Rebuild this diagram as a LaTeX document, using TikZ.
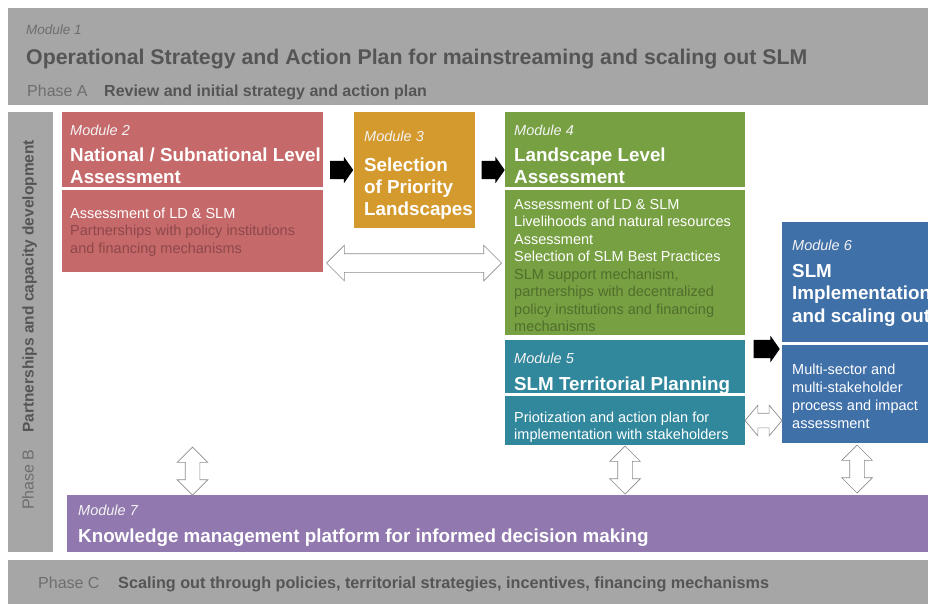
\documentclass[tikz,border=0pt]{standalone}
\usepackage{fontspec}
\setmainfont{Liberation Sans}
\usetikzlibrary{positioning,calc,shapes.arrows}

\definecolor{bandgray}{HTML}{A6A6A6}
\definecolor{bandtxt}{HTML}{555555}
\definecolor{bandlight}{HTML}{6E6E6E}
\definecolor{natred}{HTML}{C6696B}
\definecolor{natdark}{HTML}{8E484A}
\definecolor{prigold}{HTML}{D59A2E}
\definecolor{lndgreen}{HTML}{77A043}
\definecolor{lnddark}{HTML}{506E2C}
\definecolor{terteal}{HTML}{31879C}
\definecolor{impblue}{HTML}{4070A8}
\definecolor{kmpurple}{HTML}{9179AF}

\tikzset{
  modbox/.style={anchor=north west, inner sep=0pt, outer sep=0pt},
  bandlbl/.style={anchor=base west, inner sep=0pt, text=bandlight, font=\fontsize{16}{19}\selectfont},
  bandbold/.style={anchor=base west, inner sep=0pt, text=bandtxt, font=\fontsize{16}{19}\selectfont\bfseries},
  modlbl/.style={anchor=base west, inner sep=0pt, text=white!95!black, font=\fontsize{14.5}{17}\selectfont\itshape},
  modttl/.style={anchor=base west, inner sep=0pt, text=white, align=left, font=\fontsize{18.8}{22}\selectfont\bfseries},
  modtxt/.style={anchor=base west, inner sep=0pt, text=white, align=left, font=\fontsize{14.5}{17.5}\selectfont},
  blkarrow/.style={single arrow, fill=black, inner xsep=1pt, inner ysep=9pt, single arrow head extend=4pt, single arrow tip angle=110, minimum height=24pt},
  dblarrow/.style={double arrow, fill=white, draw=black!45, line width=0.7pt, inner xsep=1pt, inner ysep=7pt, double arrow head extend=8pt, double arrow tip angle=90},
}

\begin{document}
\begin{tikzpicture}[x=1pt,y=-1pt]
  \useasboundingbox (0,0) rectangle (928,603);
  \clip (0,0) rectangle (928,603);

  %%%%% BANDS %%%%%
  % (multi-line nodes sit on their last baseline)
  \node[modbox, fill=bandgray, minimum width=940pt, minimum height=97pt] (m1) at (8,8) {};
  \node[anchor=base west, inner sep=0pt, text=bandlight, font=\fontsize{13.5}{16}\selectfont\itshape] (m1lbl) at ([xshift=18pt,yshift=-26pt]m1.north west) {Module 1};
  \node[anchor=base west, inner sep=0pt, text=bandtxt, font=\fontsize{21.3}{24}\selectfont\bfseries] (m1ttl) at ([xshift=18pt,yshift=-56pt]m1.north west) {Operational Strategy and Action Plan for mainstreaming and scaling out SLM};
  \node[bandlbl] (phA) at ([xshift=19pt,yshift=-88.7pt]m1.north west) {Phase A};
  \node[bandbold] (phAtxt) at ([xshift=96pt,yshift=-88.7pt]m1.north west) {Review and initial strategy and action plan};

  \node[modbox, fill=bandgray, minimum width=45pt, minimum height=440pt] (pB) at (8,112) {};
  \node[bandlbl, rotate=90] (phB) at (33.6,510) {Phase B};
  \node[bandbold, font=\fontsize{15.5}{19}\selectfont\bfseries, rotate=90] (phBtxt) at (33.6,433) {Partnerships and capacity development};

  \node[modbox, fill=bandgray, minimum width=940pt, minimum height=50pt] (pC) at (8,560) {};
  \node[bandlbl] (phC) at ([xshift=30pt,yshift=-28.7pt]pC.north west) {Phase C};
  \node[bandbold, font=\fontsize{16.2}{19}\selectfont\bfseries] (phCtxt) at ([xshift=110pt,yshift=-28.7pt]pC.north west) {Scaling out through policies, territorial strategies, incentives, financing mechanisms};

  %%%%% MODULE 2 %%%%%
  \node[modbox, fill=natred, minimum width=261pt, minimum height=75pt] (m2h) at (62,112) {};
  \node[below=3pt of m2h.south west, modbox, fill=natred, minimum width=261pt, minimum height=82pt] (m2b) {};
  \node[modlbl] (m2lbl) at ([xshift=8pt,yshift=-23pt]m2h.north west) {Module 2};
  \node[modttl] (m2ttl) at ([xshift=8pt,yshift=-71.5pt]m2h.north west) {National / Subnational Level\\Assessment};
  \node[modtxt] (m2txt) at ([xshift=8pt,yshift=-63pt]m2b.north west) {Assessment of LD \& SLM\\\textcolor{natdark}{Partnerships with policy institutions}\\\textcolor{natdark}{and financing mechanisms}};

  %%%%% MODULE 3 %%%%%
  \node[modbox, fill=prigold, minimum width=121pt, minimum height=116pt] (m3) at (354,112) {};
  \node[modlbl] (m3lbl) at ([xshift=10pt,yshift=-29pt]m3.north west) {Module 3};
  \node[modttl] (m3ttl) at ([xshift=10pt,yshift=-103pt]m3.north west) {Selection\\of Priority\\Landscapes};

  %%%%% MODULE 4 %%%%%
  \node[modbox, fill=lndgreen, minimum width=240pt, minimum height=75pt] (m4h) at (505,112) {};
  \node[below=3pt of m4h.south west, modbox, fill=lndgreen, minimum width=240pt, minimum height=145pt] (m4b) {};
  \node[modlbl] (m4lbl) at ([xshift=9pt,yshift=-23pt]m4h.north west) {Module 4};
  \node[modttl] (m4ttl) at ([xshift=9pt,yshift=-71.5pt]m4h.north west) {Landscape Level\\Assessment};
  \node[modtxt] (m4txt) at ([xshift=9pt,yshift=-141.5pt]m4b.north west) {Assessment of LD \& SLM\\Livelihoods and natural resources\\Assessment\\Selection of SLM Best Practices\\\textcolor{lnddark}{SLM support mechanism,}\\\textcolor{lnddark}{partnerships with decentralized}\\\textcolor{lnddark}{policy institutions and financing}\\\textcolor{lnddark}{mechanisms}};

  %%%%% MODULE 5 %%%%%
  \node[below=5pt of m4b.south west, modbox, fill=terteal, minimum width=240pt, minimum height=53pt] (m5h) {};
  \node[below=3pt of m5h.south west, modbox, fill=terteal, minimum width=240pt, minimum height=49pt] (m5b) {};
  \node[modlbl] (m5lbl) at ([xshift=9pt,yshift=-23pt]m5h.north west) {Module 5};
  \node[modttl] (m5ttl) at ([xshift=9pt,yshift=-50pt]m5h.north west) {SLM Territorial Planning};
  \node[modtxt, font=\fontsize{14.5}{17}\selectfont] (m5txt) at ([xshift=9pt,yshift=-43pt]m5b.north west) {Priotization and action plan for\\implementation with stakeholders};

  %%%%% MODULE 6 %%%%%
  \node[modbox, fill=impblue, minimum width=150pt, minimum height=120pt] (m6h) at (782,222) {};
  \node[below=3pt of m6h.south west, modbox, fill=impblue, minimum width=150pt, minimum height=98pt] (m6b) {};
  \node[modlbl] (m6lbl) at ([xshift=10pt,yshift=-28pt]m6h.north west) {Module 6};
  \node[modttl, font=\fontsize{18.8}{22.5}\selectfont\bfseries] (m6ttl) at ([xshift=10pt,yshift=-100pt]m6h.north west) {SLM\\Implementation\\and scaling out};
  \node[modtxt, font=\fontsize{14.5}{18}\selectfont] (m6txt) at ([xshift=10pt,yshift=-83pt]m6b.north west) {Multi-sector and\\multi-stakeholder\\process and impact\\assessment};

  %%%%% MODULE 7 %%%%%
  \node[modbox, fill=kmpurple, minimum width=880pt, minimum height=57pt] (m7) at (67,495) {};
  \node[modlbl] (m7lbl) at ([xshift=11pt,yshift=-20pt]m7.north west) {Module 7};
  \node[modttl] (m7ttl) at ([xshift=11pt,yshift=-47pt]m7.north west) {Knowledge management platform for informed decision making};

  %%%%% ARROWS %%%%%
  \node[blkarrow, minimum height=23pt] (a23) at ($(m2h.east |- m3.west)!0.5!(m3.west)$) {};
  \node[blkarrow, minimum height=23pt] (a34) at ($(m3.east)!0.5!(m4h.west |- m3.east)$) {};
  \node[blkarrow, minimum height=26pt] (a46) at ([yshift=-9pt]$(m5h.north east)!0.5!(m6b.west |- m5h.north east)$) {};

  \node[dblarrow, minimum height=175pt, inner ysep=9pt, double arrow head extend=8.5pt] (d24) at ([yshift=9pt]$(m2b.south east)!0.5!(m4b.west |- m2b.south east)$) {};
  \node[dblarrow, minimum height=37pt, double arrow tip angle=100] (d56) at ($(m5b.east)!0.5!(m6b.west |- m5b.east)$) {};

  \node[dblarrow, rotate=90, minimum height=48pt] (v2) at ([yshift=24pt]m7.north -| m2b.south) {};
  \node[dblarrow, rotate=90, minimum height=48pt] (v5) at ($(m5b.south)!0.5!(m7.north -| m5b.south)$) {};
  \node[dblarrow, rotate=90, minimum height=48pt] (v6) at ($(m6b.south)!0.5!(m7.north -| m6b.south)$) {};
\end{tikzpicture}
\end{document}
